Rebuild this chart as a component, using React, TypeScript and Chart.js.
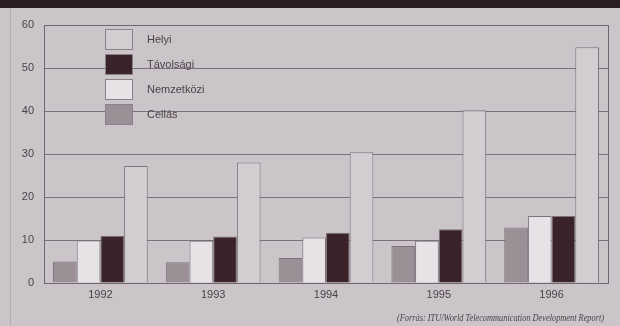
import React, { useEffect, useRef } from "react";
import { Chart, registerables } from "chart.js";

Chart.register(...registerables);

const categories = ["1992", "1993", "1994", "1995", "1996"];
const cellas = [5, 4.8, 5.8, 8.6, 12.9];
const nemzetkozi = [9.9, 9.8, 10.6, 9.8, 15.6];
const tavolsagi = [11, 10.8, 11.7, 12.5, 15.6];
const helyi = [27.2, 28, 30.4, 40.2, 54.8];
const yTicks = [0, 10, 20, 30, 40, 50, 60];
const legendOrder = ["Helyi", "Távolsági", "Nemzetközi", "Cellás"];
const sourceText = "(Forrás: ITU/World Telecommunication Development Report)";

const BG = "#cbc5ca";
const COLORS: Record<string, string> = {
  Cellás: "#9a9096",
  Nemzetközi: "#e6e2e6",
  Távolsági: "#3a2429",
  Helyi: "#d2cdd1",
};

export default function App() {
  const ref = useRef<HTMLCanvasElement>(null);
  useEffect(() => {
    if (!ref.current) return;
    const decor = {
      id: "decor",
      beforeDraw(chart: any) {
        const { ctx, width, height } = chart;
        ctx.save();
        ctx.fillStyle = BG;
        ctx.fillRect(0, 0, width, height);
        ctx.fillStyle = "#2b1d23";
        ctx.fillRect(0, 0, width, 8);
        ctx.strokeStyle = "#b3adb2";
        ctx.lineWidth = 1;
        ctx.beginPath();
        ctx.moveTo(10.5, 8);
        ctx.lineTo(10.5, height);
        ctx.stroke();
        ctx.restore();
      },
      afterDraw(chart: any) {
        const { ctx, chartArea } = chart;
        ctx.save();
        ctx.strokeStyle = "#6f676d";
        ctx.lineWidth = 1;
        ctx.strokeRect(
          Math.round(chartArea.left) + 0.5,
          Math.round(chartArea.top) + 0.5,
          Math.round(chartArea.right - chartArea.left),
          Math.round(chartArea.bottom - chartArea.top)
        );
        const bx = 105;
        const by = 29;
        const step = 25;
        legendOrder.forEach((name, i) => {
          const y = by + i * step;
          ctx.fillStyle = COLORS[name];
          ctx.fillRect(bx, y, 28, 21);
          ctx.strokeStyle = "#8a8288";
          ctx.strokeRect(bx + 0.5, y + 0.5, 27, 20);
          ctx.fillStyle = "#4a4247";
          ctx.font = "11px 'Liberation Sans', Arial, sans-serif";
          ctx.textBaseline = "middle";
          ctx.textAlign = "left";
          ctx.fillText(name, 147, y + 11);
        });
        ctx.fillStyle = "#4a4247";
        ctx.font = "italic 10px 'Liberation Serif', 'Times New Roman', serif";
        ctx.textAlign = "right";
        ctx.textBaseline = "middle";
        ctx.fillText(sourceText, 604, 318, 207);
        ctx.restore();
      },
    };
    const mk = (label: string, data: number[]) => ({
      label,
      data,
      backgroundColor: COLORS[label],
      borderColor: "#7c747a",
      borderWidth: 1,
      categoryPercentage: 0.84,
      barPercentage: 1,
    });
    const chart = new Chart(ref.current, {
      type: "bar",
      data: {
        labels: categories,
        datasets: [
          mk("Cellás", cellas),
          mk("Nemzetközi", nemzetkozi),
          mk("Távolsági", tavolsagi),
          mk("Helyi", helyi),
        ],
      },
      options: {
        responsive: false,
        animation: false,
        layout: { padding: { left: 9, top: 25, right: 12, bottom: 0 } },
        plugins: { legend: { display: false }, tooltip: { enabled: false } },
        scales: {
          x: {
            grid: { display: false, drawTicks: false },
            border: { display: false },
            ticks: {
              color: "#4a4247",
              font: { family: "'Liberation Sans', Arial, sans-serif", size: 11 },
              padding: 5,
            },
            afterFit: (s: any) => {
              s.height = 43;
            },
          },
          y: {
            min: 0,
            max: 60,
            afterBuildTicks: (s: any) => {
              s.ticks = yTicks.map((v) => ({ value: v }));
            },
            grid: { color: "#7a7278", lineWidth: 1, drawTicks: false },
            border: { display: false },
            ticks: {
              color: "#4a4247",
              font: { family: "'Liberation Sans', Arial, sans-serif", size: 11 },
              padding: 10,
            },
            afterFit: (s: any) => {
              s.width = 35;
            },
          },
        },
      },
      plugins: [decor],
    });
    return () => chart.destroy();
  }, []);
  return (
    <div style={{ position: "fixed", left: 0, top: 0, width: 620, height: 326 }}>
      <canvas ref={ref} width={620} height={326} />
    </div>
  );
}
